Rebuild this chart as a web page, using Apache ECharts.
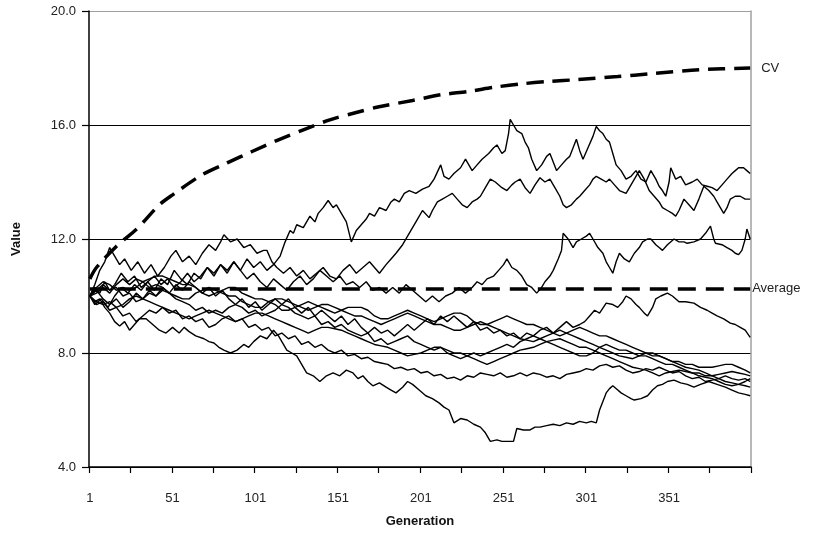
<!DOCTYPE html>
<html><head><meta charset="utf-8">
<script src="https://cdn.jsdelivr.net/npm/echarts@6/dist/echarts.min.js"></script>
<style>html,body{margin:0;padding:0;background:#fff}#c{width:829px;height:545px}</style>
</head><body><div id="c"></div>
<script>
// Categories: generations 1..400
const generations = [];
for (let g = 1; g <= 400; g++) generations.push(String(g));
const yTickValues = [4, 8, 12, 16, 20];

const cvPoints = [[1,10.6],[5,11.0],[17,11.74],[30,12.39],[43,13.2],[51,13.55],[69,14.26],[84,14.67],[99,15.07],[115,15.48],[130,15.83],[146,16.18],[162,16.44],[175,16.63],[196,16.86],[213,17.06],[230,17.18],[246,17.33],[263,17.45],[279,17.53],[295,17.59],[320,17.7],[340,17.8],[370,17.94],[400,18.0]];
const averagePoints = [[1,10.25],[400,10.25]];

const walkA = [[1,10.0],[4,10.3],[7,10.1],[10,10.5],[13,10.2],[16,10.4],[20,10.8],[24,10.5],[28,10.7],[32,10.3],[36,10.5],[40,10.2],[44,10.6],[48,10.4],[52,10.9],[56,10.6],[60,10.4],[64,10.8],[68,10.6],[72,11.0],[76,10.7],[80,11.1],[84,10.8],[88,11.2],[92,10.9],[96,11.3],[100,11.0],[104,11.2],[108,10.9],[112,11.1],[116,11.4],[119,11.9],[122,12.3],[124,12.2],[126,12.5],[130,12.4],[134,12.8],[137,12.6],[139,12.9],[142,13.1],[145,13.35],[148,13.1],[150,13.2],[153,12.9],[156,12.6],[159,11.9],[162,12.3],[165,12.5],[168,12.7],[170,12.9],[173,12.8],[176,13.1],[180,13.0],[183,13.3],[185,13.4],[188,13.3],[191,13.6],[194,13.7],[198,13.6],[202,13.75],[206,13.85],[209,14.1],[213,14.6],[215,14.2],[218,14.1],[221,14.3],[225,14.5],[228,14.8],[230,14.6],[232,14.4],[235,14.6],[238,14.8],[242,15.0],[245,15.2],[247,15.3],[250,15.0],[252,15.1],[254,15.7],[255,16.2],[257,16.0],[259,15.8],[262,15.7],[264,15.4],[266,15.2],[268,14.8],[271,14.4],[274,14.6],[277,14.9],[279,15.0],[281,14.7],[283,14.4],[286,14.6],[289,14.8],[291,14.9],[293,15.2],[295,15.5],[297,15.1],[299,14.8],[302,15.2],[305,15.6],[307,15.95],[309,15.8],[311,15.7],[313,15.5],[315,15.4],[317,15.0],[319,14.6],[322,14.4],[325,14.1],[328,14.2],[331,14.4],[334,14.1],[337,14.0],[340,14.4],[343,14.1],[345,13.85],[347,13.7],[349,13.5],[351,14.0],[352,14.5],[355,14.1],[358,14.2],[361,13.9],[365,14.0],[368,14.1],[371,13.9],[374,13.85],[377,13.8],[380,13.7],[383,13.9],[386,14.1],[389,14.3],[391,14.4],[393,14.5],[396,14.5],[398,14.4],[400,14.3]];
const walkB = [[1,10.0],[4,10.4],[7,10.9],[10,11.2],[13,11.7],[16,11.4],[19,11.1],[22,11.3],[26,10.9],[30,11.2],[34,10.8],[38,11.1],[42,10.7],[46,11.0],[50,11.4],[53,11.6],[57,11.2],[61,11.4],[65,11.1],[69,11.5],[73,11.8],[77,11.6],[80,11.9],[82,12.15],[86,11.9],[90,12.0],[94,11.7],[98,11.8],[102,11.5],[106,11.6],[108,11.6],[111,11.2],[114,11.0],[118,10.8],[122,11.0],[126,10.7],[130,10.9],[134,10.6],[138,10.8],[142,11.0],[146,10.7],[150,10.6],[154,10.9],[158,11.1],[162,10.8],[166,11.0],[170,11.2],[173,11.0],[176,10.8],[180,11.1],[183,11.3],[186,11.5],[190,11.8],[193,12.1],[196,12.4],[199,12.7],[202,13.0],[206,12.75],[208,13.0],[211,13.3],[214,13.4],[217,13.5],[220,13.6],[223,13.4],[226,13.2],[229,13.1],[232,13.3],[235,13.4],[237,13.5],[240,13.8],[243,14.1],[246,14.0],[250,13.8],[253,13.7],[256,13.9],[258,14.0],[261,14.1],[264,13.8],[267,13.6],[270,13.9],[273,14.15],[276,14.0],[279,14.1],[282,13.8],[285,13.5],[287,13.2],[289,13.1],[292,13.2],[295,13.4],[297,13.5],[300,13.7],[303,13.9],[305,14.1],[307,14.2],[310,14.1],[313,14.0],[315,14.1],[318,13.9],[321,13.7],[325,13.6],[328,13.9],[331,14.2],[333,14.4],[336,14.1],[339,13.7],[342,13.5],[345,13.3],[347,13.1],[350,13.0],[353,12.9],[355,12.8],[357,13.0],[360,13.4],[363,13.2],[366,13.0],[369,13.4],[372,13.85],[375,13.7],[378,13.5],[381,13.2],[384,12.9],[386,13.1],[388,13.4],[391,13.5],[394,13.5],[397,13.4],[400,13.4]];
const walkC = [[1,10.0],[4,9.7],[8,9.9],[12,9.6],[16,10.0],[20,10.3],[24,10.1],[28,10.4],[32,10.2],[36,10.5],[40,10.7],[44,10.4],[48,10.6],[52,10.3],[56,10.5],[60,10.8],[64,10.5],[68,10.7],[72,11.0],[76,10.8],[80,11.1],[84,10.9],[88,11.2],[92,10.9],[96,10.6],[100,10.8],[104,10.5],[108,10.3],[112,10.6],[116,10.4],[120,10.2],[124,10.5],[128,10.7],[132,10.4],[136,10.6],[140,10.9],[144,10.7],[148,10.5],[152,10.7],[156,10.4],[160,10.5],[164,10.3],[168,10.5],[172,10.2],[176,10.3],[180,10.1],[184,10.3],[188,10.1],[192,10.4],[196,10.2],[200,10.0],[204,9.8],[208,10.0],[212,9.8],[216,10.0],[220,10.1],[224,10.3],[228,10.1],[232,10.3],[235,10.5],[238,10.4],[241,10.6],[245,10.7],[248,10.9],[251,11.1],[253,11.3],[256,11.0],[259,10.9],[262,10.7],[265,10.4],[268,10.3],[271,10.1],[274,10.3],[276,10.5],[279,10.7],[281,10.9],[284,11.3],[286,11.6],[287,12.2],[290,12.0],[293,11.7],[295,11.9],[298,12.0],[301,12.1],[303,12.2],[305,12.0],[308,11.7],[311,11.5],[313,11.2],[315,11.0],[317,10.8],[319,11.2],[321,11.5],[324,11.3],[327,11.2],[330,11.5],[333,11.7],[335,11.9],[338,12.0],[340,12.0],[343,11.8],[345,11.7],[347,11.6],[350,11.8],[354,12.0],[357,11.9],[360,11.9],[362,11.85],[366,11.9],[370,12.0],[373,12.2],[376,12.45],[378,12.0],[379,11.85],[383,11.8],[386,11.7],[389,11.6],[391,11.5],[393,11.45],[395,11.6],[397,12.0],[398,12.35],[400,12.0]];
const walkD = [[1,10.0],[5,10.2],[9,9.9],[13,9.7],[17,9.9],[21,9.6],[25,9.8],[29,10.1],[33,9.9],[37,10.2],[41,10.0],[45,10.3],[49,10.1],[53,10.4],[57,10.2],[61,10.5],[65,10.3],[69,10.1],[73,10.3],[77,10.0],[81,10.2],[85,9.9],[89,9.7],[93,9.9],[97,9.6],[101,9.8],[105,9.5],[109,9.7],[113,9.9],[117,9.7],[121,9.9],[125,9.6],[129,9.4],[133,9.6],[137,9.3],[141,9.5],[145,9.3],[149,9.1],[153,9.3],[157,9.0],[161,9.2],[165,8.9],[169,8.7],[173,8.9],[177,8.7],[181,8.8],[185,8.6],[189,8.8],[193,9.0],[197,8.8],[201,9.0],[205,9.2],[209,9.0],[213,9.3],[217,9.1],[221,9.3],[225,9.1],[229,8.9],[233,9.1],[237,8.8],[241,8.9],[245,8.7],[249,8.8],[253,8.6],[257,8.7],[261,8.5],[265,8.7],[269,8.6],[273,8.8],[277,8.9],[281,8.7],[285,8.9],[289,9.1],[293,8.9],[297,9.0],[300,9.1],[303,9.3],[306,9.5],[309,9.4],[313,9.75],[317,9.7],[320,9.6],[323,9.8],[325,10.0],[328,9.9],[331,9.7],[333,9.6],[336,9.4],[338,9.3],[341,9.6],[343,9.9],[346,10.0],[350,10.1],[353,10.0],[357,9.8],[361,9.8],[366,9.75],[370,9.6],[374,9.5],[377,9.4],[380,9.3],[384,9.2],[388,9.05],[391,9.0],[394,8.9],[397,8.8],[400,8.55]];
const walkE = [[1,10.0],[4,9.8],[7,9.9],[10,9.6],[13,9.4],[16,9.1],[19,8.95],[22,9.1],[25,8.8],[28,9.0],[31,9.2],[35,9.2],[39,9.0],[43,8.8],[47,8.7],[51,8.9],[55,8.7],[58,8.9],[61,8.75],[65,8.6],[70,8.5],[73,8.4],[76,8.35],[79,8.2],[82,8.1],[86,8.0],[90,8.1],[94,8.3],[97,8.2],[100,8.4],[104,8.6],[108,8.5],[112,8.8],[115,8.6],[118,8.3],[120,8.1],[123,8.0],[126,7.9],[129,7.6],[132,7.3],[136,7.2],[140,7.0],[144,7.2],[148,7.3],[152,7.2],[156,7.4],[160,7.3],[163,7.1],[166,7.2],[169,7.0],[172,6.85],[176,6.95],[180,6.8],[183,6.7],[186,6.6],[190,6.8],[193,7.0],[196,6.9],[200,6.7],[204,6.5],[208,6.4],[212,6.25],[215,6.1],[218,6.0],[221,5.55],[225,5.7],[229,5.65],[233,5.5],[237,5.4],[240,5.2],[243,4.9],[247,4.95],[250,4.9],[254,4.9],[257,4.9],[259,5.35],[263,5.3],[267,5.3],[270,5.4],[273,5.4],[277,5.45],[281,5.5],[285,5.45],[289,5.55],[293,5.5],[297,5.6],[301,5.55],[304,5.6],[307,5.55],[309,6.0],[311,6.3],[313,6.6],[315,6.75],[317,6.85],[320,6.7],[322,6.6],[325,6.5],[328,6.4],[330,6.35],[334,6.4],[338,6.5],[341,6.7],[344,6.85],[347,6.9],[350,7.0],[354,7.05],[358,6.95],[362,6.9],[366,6.8],[370,6.9],[375,7.0],[380,6.9],[385,6.8],[389,6.7],[393,6.6],[397,6.55],[400,6.5]];
const walkF = [[1,10.0],[5,9.7],[9,9.8],[13,9.5],[17,9.6],[21,9.3],[25,9.4],[29,9.1],[33,9.3],[37,9.5],[41,9.4],[45,9.6],[49,9.4],[53,9.5],[57,9.2],[61,9.3],[65,9.1],[69,9.2],[73,8.9],[77,9.0],[81,9.2],[85,9.3],[89,9.1],[93,9.2],[97,8.9],[101,9.0],[105,8.8],[109,8.9],[113,8.6],[117,8.7],[121,8.5],[125,8.6],[129,8.3],[133,8.4],[137,8.2],[141,8.3],[145,8.1],[149,8.0],[153,8.1],[157,7.9],[161,7.95],[165,7.8],[169,7.85],[173,7.7],[177,7.65],[181,7.6],[185,7.45],[189,7.5],[193,7.4],[197,7.45],[201,7.3],[205,7.35],[209,7.2],[213,7.25],[217,7.1],[221,7.15],[225,7.05],[229,7.2],[233,7.15],[237,7.3],[241,7.25],[245,7.2],[249,7.3],[253,7.15],[257,7.2],[261,7.3],[265,7.2],[269,7.3],[273,7.25],[277,7.15],[281,7.2],[285,7.1],[289,7.25],[293,7.3],[297,7.35],[301,7.45],[305,7.4],[309,7.55],[313,7.6],[317,7.5],[321,7.55],[325,7.4],[329,7.3],[333,7.35],[337,7.45],[341,7.4],[345,7.5],[349,7.4],[353,7.3],[357,7.35],[361,7.2],[365,7.1],[369,7.15],[373,7.0],[377,7.05],[381,7.1],[385,7.2],[389,7.1],[393,7.05],[397,7.1],[400,7.0]];
const walkG = [[1,10.0],[5,10.2],[9,10.4],[13,10.2],[17,10.3],[21,10.0],[25,10.1],[29,9.8],[33,9.9],[37,10.1],[41,10.0],[45,10.2],[49,10.1],[53,9.9],[57,9.8],[61,9.7],[65,9.5],[69,9.6],[73,9.4],[77,9.5],[81,9.4],[85,9.6],[89,9.7],[93,9.6],[97,9.4],[101,9.5],[105,9.3],[109,9.4],[113,9.5],[117,9.7],[121,9.6],[125,9.4],[129,9.3],[133,9.2],[137,9.3],[141,9.0],[145,9.1],[149,8.9],[153,9.0],[157,8.8],[161,8.7],[165,8.6],[169,8.7],[173,8.4],[177,8.5],[181,8.3],[185,8.4],[189,8.5],[193,8.6],[197,8.4],[201,8.3],[205,8.2],[209,8.1],[213,8.2],[217,8.0],[221,7.9],[225,7.8],[229,7.9],[233,8.0],[237,7.9],[241,8.0],[245,8.1],[249,8.2],[253,8.3],[257,8.2],[261,8.4],[265,8.5],[269,8.6],[273,8.5],[277,8.4],[281,8.3],[285,8.2],[289,8.1],[293,8.0],[297,7.9],[301,7.9],[305,8.0],[309,8.2],[313,8.3],[317,8.2],[321,8.1],[325,8.1],[329,8.0],[333,7.9],[337,7.9],[341,7.8],[345,7.7],[349,7.6],[353,7.6],[357,7.5],[361,7.4],[365,7.3],[369,7.3],[373,7.2],[377,7.2],[381,7.25],[385,7.3],[389,7.35],[393,7.3],[397,7.25],[400,7.2]];
const walkH = [[1,10.0],[5,10.1],[9,10.3],[13,10.1],[17,10.4],[21,10.6],[25,10.4],[29,10.6],[33,10.5],[37,10.3],[41,10.4],[45,10.3],[49,10.1],[53,10.0],[57,9.9],[61,9.9],[65,10.1],[69,10.2],[73,10.3],[77,10.2],[81,10.1],[85,10.0],[89,10.0],[93,9.8],[97,9.7],[101,9.6],[105,9.6],[109,9.8],[113,9.9],[117,9.9],[121,9.8],[125,9.7],[129,9.6],[133,9.5],[137,9.6],[141,9.7],[145,9.7],[149,9.6],[153,9.5],[157,9.4],[161,9.3],[165,9.3],[169,9.2],[173,9.1],[177,9.0],[181,9.1],[185,9.2],[189,9.3],[193,9.4],[197,9.3],[201,9.2],[205,9.1],[209,9.0],[213,9.0],[217,8.9],[221,8.8],[225,8.8],[229,8.9],[233,9.0],[237,9.1],[241,9.0],[245,8.9],[249,8.8],[253,8.7],[257,8.6],[261,8.5],[265,8.45],[269,8.4],[273,8.5],[277,8.6],[281,8.7],[285,8.8],[289,8.7],[293,8.6],[297,8.5],[301,8.4],[305,8.3],[309,8.2],[313,8.1],[317,8.0],[321,7.9],[325,7.85],[329,7.8],[333,7.9],[337,8.0],[341,8.0],[345,7.9],[349,7.8],[353,7.7],[357,7.6],[361,7.5],[365,7.45],[369,7.4],[373,7.3],[377,7.2],[381,7.1],[385,7.0],[389,6.95],[393,6.9],[397,6.85],[400,6.8]];
const walkI = [[1,10.0],[5,9.8],[9,9.7],[13,9.8],[17,9.6],[21,9.7],[25,9.9],[29,10.0],[33,9.9],[37,9.8],[41,9.7],[45,9.6],[49,9.5],[53,9.4],[57,9.3],[61,9.2],[65,9.3],[69,9.4],[73,9.5],[77,9.4],[81,9.3],[85,9.2],[89,9.1],[93,9.2],[97,9.3],[101,9.4],[105,9.4],[109,9.3],[113,9.2],[117,9.1],[121,9.0],[125,8.9],[129,8.8],[133,8.7],[137,8.8],[141,8.9],[145,8.9],[149,8.85],[153,8.8],[157,8.7],[161,8.6],[165,8.5],[169,8.4],[173,8.3],[177,8.25],[181,8.2],[185,8.1],[189,8.0],[193,7.9],[197,7.95],[201,8.0],[205,8.1],[209,8.2],[213,8.2],[217,8.1],[221,8.0],[225,8.0],[229,7.9],[233,7.8],[237,7.7],[241,7.6],[245,7.7],[249,7.8],[253,7.9],[257,8.0],[261,8.1],[265,8.15],[269,8.2],[273,8.3],[277,8.4],[281,8.45],[285,8.5],[289,8.4],[293,8.3],[297,8.2],[301,8.2],[305,8.1],[309,8.0],[313,7.9],[317,7.8],[321,7.7],[325,7.6],[329,7.5],[333,7.45],[337,7.4],[341,7.3],[345,7.2],[349,7.3],[353,7.35],[357,7.4],[361,7.35],[365,7.3],[369,7.2],[373,7.15],[377,7.1],[381,7.0],[385,6.9],[389,6.85],[393,6.9],[397,7.0],[400,7.1]];
const walkJ = [[1,10.0],[5,10.3],[9,10.5],[13,10.4],[17,10.2],[21,10.3],[25,10.2],[29,10.3],[33,10.5],[37,10.6],[41,10.7],[45,10.7],[49,10.6],[53,10.5],[57,10.4],[61,10.4],[65,10.3],[69,10.1],[73,10.0],[77,10.1],[81,10.2],[85,10.3],[89,10.3],[93,10.1],[97,10.0],[101,9.9],[105,9.9],[109,9.8],[113,9.7],[117,9.5],[121,9.5],[125,9.6],[129,9.7],[133,9.8],[137,9.7],[141,9.6],[145,9.5],[149,9.4],[153,9.5],[157,9.6],[161,9.6],[165,9.6],[169,9.5],[173,9.3],[177,9.2],[181,9.2],[185,9.3],[189,9.4],[193,9.5],[197,9.4],[201,9.3],[205,9.2],[209,9.1],[213,9.2],[217,9.3],[221,9.4],[225,9.4],[229,9.3],[233,9.1],[237,9.0],[241,9.0],[245,9.1],[249,9.2],[253,9.3],[257,9.2],[261,9.1],[265,9.0],[269,9.0],[273,8.9],[277,8.8],[281,8.7],[285,8.6],[289,8.7],[293,8.8],[297,8.9],[301,8.8],[305,8.7],[309,8.6],[313,8.6],[317,8.5],[321,8.4],[325,8.3],[329,8.2],[333,8.1],[337,8.0],[341,7.9],[345,7.9],[349,7.8],[353,7.7],[357,7.7],[361,7.6],[365,7.6],[369,7.5],[373,7.5],[377,7.5],[381,7.55],[385,7.6],[389,7.6],[393,7.5],[397,7.4],[400,7.3]];

const walks = [walkA, walkB, walkC, walkD, walkE, walkF, walkG, walkH, walkI, walkJ];

function expand(pairs) {
  const arr = new Array(generations.length).fill(null);
  pairs.forEach(([g, v]) => { arr[g - 1] = v; });
  return arr;
}

const FONT = 'Liberation Sans, Arial, sans-serif';
const series = walks.map((w, i) => ({
  name: 'Run ' + (i + 1), type: 'line', data: expand(w), connectNulls: true,
  symbol: 'none', lineStyle: { color: '#000', width: 1.4 }, silent: true, z: 3
}));
series.push({
  name: 'CV', type: 'line', data: expand(cvPoints), connectNulls: true, smooth: 0.3,
  symbol: 'none', lineStyle: { color: '#000', width: 3.5, type: [17, 9] }, z: 4,
  endLabel: { show: true, formatter: 'CV', distance: 11, fontFamily: FONT, fontSize: 13, color: '#222' }
});
series.push({
  name: 'Average', type: 'line', data: expand(averagePoints), connectNulls: true,
  symbol: 'none', lineStyle: { color: '#000', width: 3.5, type: [18, 10] }, z: 4,
  endLabel: { show: true, formatter: 'Average', distance: 2, fontFamily: FONT, fontSize: 13, color: '#222' }
});

const chart = echarts.init(document.getElementById('c'), null, { renderer: 'canvas' });
chart.setOption({
  animation: false,
  backgroundColor: '#fff',
  grid: { left: 89, right: 78, top: 11, bottom: 78, containLabel: false },
  xAxis: {
    type: 'category', data: generations, boundaryGap: true,
    name: 'Generation', nameLocation: 'middle', nameGap: 48,
    nameTextStyle: { fontFamily: FONT, fontSize: 13, fontWeight: 'bold', color: '#111' },
    axisLine: { lineStyle: { color: '#000', width: 1.5 } },
    axisTick: { show: true, interval: 24, length: 6, lineStyle: { color: '#000', width: 1.2 } },
    axisLabel: { interval: 49, margin: 25, fontFamily: FONT, fontSize: 13, color: '#222' },
    splitLine: { show: false }
  },
  yAxis: [{
    type: 'value', min: yTickValues[0], max: yTickValues[yTickValues.length - 1], interval: 4,
    name: 'Value', nameLocation: 'middle', nameGap: 66, nameRotate: 90,
    nameTextStyle: { fontFamily: FONT, fontSize: 13, fontWeight: 'bold', color: '#111' },
    axisLine: { show: true, lineStyle: { color: '#000', width: 1.5 } },
    axisTick: { show: true, inside: false, length: 7, lineStyle: { color: '#000', width: 1.2 } },
    axisLabel: { margin: 13, fontFamily: FONT, fontSize: 13, color: '#222', formatter: v => v.toFixed(1) },
    splitLine: { show: true, lineStyle: { color: ['#000', '#000', '#000', '#000', '#a0a0a0'], width: 1.2 } }
  }, {
    type: 'value', position: 'right', min: 4, max: 20, interval: 4,
    axisLine: { show: true, lineStyle: { color: '#a0a0a0', width: 1.5 } },
    axisTick: { show: false }, axisLabel: { show: false }, splitLine: { show: false }
  }],
  series: series
});
</script>
</body></html>
